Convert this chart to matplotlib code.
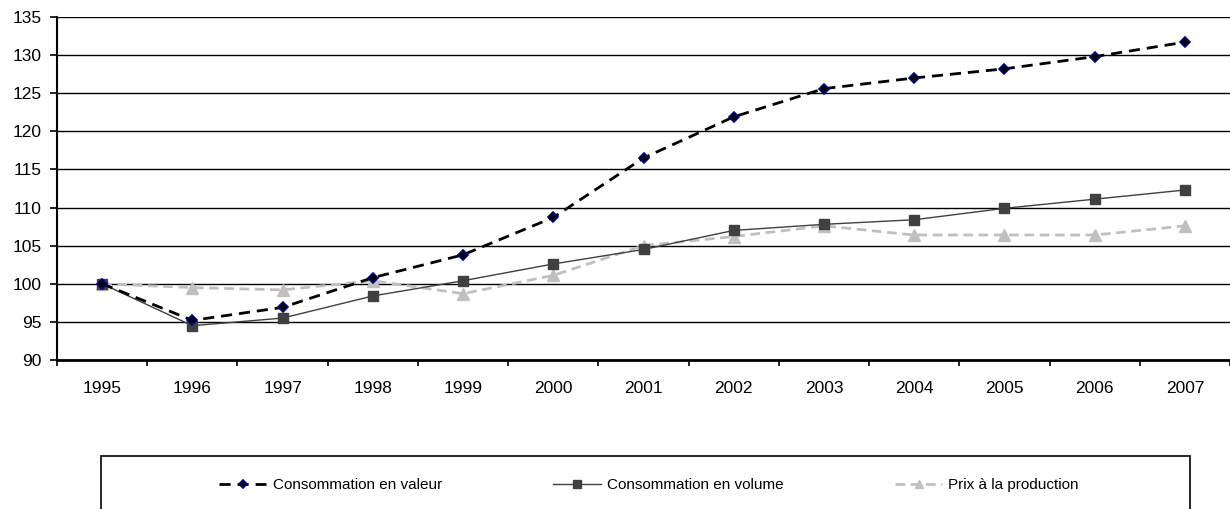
import matplotlib
matplotlib.use("Agg")
import matplotlib.pyplot as plt
from matplotlib.patches import Rectangle
import numpy as np

plt.rcParams['font.family'] = ['Liberation Sans', 'DejaVu Sans']

years = ["1995", "1996", "1997", "1998", "1999", "2000", "2001",
         "2002", "2003", "2004", "2005", "2006", "2007"]
conso_valeur = [100, 95.2, 96.9, 100.8, 103.8, 108.7, 116.5,
                121.9, 125.6, 127.0, 128.2, 129.8, 131.7]
conso_volume = [100, 94.5, 95.5, 98.4, 100.4, 102.6, 104.5,
                107.0, 107.8, 108.4, 109.9, 111.1, 112.3]
prix_production = [100, 99.5, 99.2, 100.4, 98.7, 101.1, 105.0,
                   106.2, 107.6, 106.4, 106.4, 106.4, 107.6]
y_ticks = [90, 95, 100, 105, 110, 115, 120, 125, 130, 135]

W, H = 1230, 509
fig = plt.figure(figsize=(W / 100, H / 100), dpi=100)
ax = fig.add_axes([57 / W, 1 - 360 / H, 1 - 57 / W, (360 - 17) / H])

x = np.arange(len(years))
ax.plot(x, conso_valeur, color='black', linestyle=(0, (4, 2.5)), linewidth=2,
        marker='D', markersize=5.5, markerfacecolor='black',
        markeredgecolor='#000080', markeredgewidth=1.2,
        label='Consommation en valeur', zorder=5)
ax.plot(x, conso_volume, color='#404040', linestyle='-', linewidth=1,
        marker='s', markersize=7.5, markerfacecolor='#404040',
        markeredgecolor='#404040', label='Consommation en volume', zorder=4)
ax.plot(x, prix_production, color='#c0c0c0', linestyle=(0, (3.5, 2)), linewidth=2,
        marker='^', markersize=8, markerfacecolor='#c0c0c0',
        markeredgecolor='#c0c0c0', label='Prix à la production', zorder=3)

ax.set_xlim(-0.5, len(years) - 0.5)
ax.set_ylim(90, 135)
ax.set_yticks(y_ticks)
ax.set_yticklabels([str(v) for v in y_ticks], fontsize=12.5)
ax.set_xticks(x)
ax.set_xticklabels(years, fontsize=12.5)
ax.set_xticks(np.arange(-0.5, len(years), 1.0), minor=True)
ax.tick_params(axis='x', which='major', length=0, pad=15)
ax.tick_params(axis='x', which='minor', length=4.3, width=1.2, direction='out', color='black')
ax.tick_params(axis='y', length=5, width=1.2, direction='out', color='black', pad=6)

ax.yaxis.grid(True, color='black', linewidth=1)
ax.set_axisbelow(True)
for side in ['top', 'right']:
    ax.spines[side].set_visible(False)
ax.spines['left'].set_linewidth(1.5)
ax.spines['bottom'].set_linewidth(2)

# Legend frame (runs past the bottom edge of the figure)
fig.patches.append(Rectangle((101 / W, -20 / H), (1190 - 101) / W, (H - 456 + 20) / H,
                             transform=fig.transFigure, fill=False,
                             edgecolor='black', linewidth=1.2))

leg = fig.legend(loc='center', bbox_to_anchor=(649 / W, 1 - 485 / H),
                 ncol=3, frameon=False, fontsize=11, handlelength=3.1,
                 handletextpad=0.4, columnspacing=7.3, markerscale=0.7)

fig.savefig('out.png', dpi=100)
